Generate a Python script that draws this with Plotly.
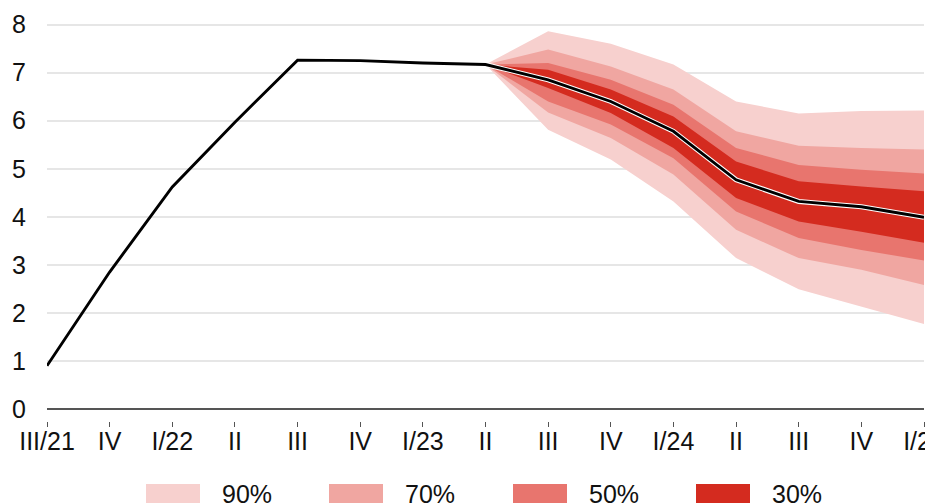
import plotly.graph_objects as go

# ---- data ----
quarters = ["2021Q3", "2021Q4", "2022Q1", "2022Q2", "2022Q3", "2022Q4",
            "2023Q1", "2023Q2", "2023Q3", "2023Q4", "2024Q1", "2024Q2",
            "2024Q3", "2024Q4", "2025Q1"]
tick_labels = ["III/21", "IV", "I/22", "II", "III", "IV", "I/23", "II",
               "III", "IV", "I/24", "II", "III", "IV", "I/25"]

history = [0.9, 2.85, 4.62, 5.97, 7.26, 7.25, 7.2, 7.17]
central = [7.17, 6.85, 6.40, 5.78, 4.77, 4.32, 4.21, 3.99]   # from 2023Q2

upper90 = [7.17, 7.86, 7.60, 7.17, 6.40, 6.15, 6.20, 6.21]
lower90 = [7.17, 5.81, 5.19, 4.32, 3.14, 2.49, 2.13, 1.77]
upper70 = [7.17, 7.48, 7.13, 6.65, 5.78, 5.48, 5.43, 5.40]
lower70 = [7.17, 6.17, 5.64, 4.88, 3.73, 3.14, 2.90, 2.58]
upper50 = [7.17, 7.20, 6.85, 6.33, 5.43, 5.08, 4.98, 4.90]
lower50 = [7.17, 6.40, 5.92, 5.22, 4.11, 3.56, 3.31, 3.09]
upper30 = [7.17, 7.06, 6.65, 6.09, 5.15, 4.74, 4.63, 4.53]
lower30 = [7.17, 6.68, 6.16, 5.43, 4.39, 3.90, 3.69, 3.46]

band_names = ["90%", "70%", "50%", "30%"]
band_colors = ["#f7d0ce", "#f0a6a1", "#e8756e", "#d42b1f"]
bands = [(upper90, lower90), (upper70, lower70), (upper50, lower50), (upper30, lower30)]

hist_x = quarters[:len(history)]
fc_x = quarters[len(history) - 1:]

FONT = "Liberation Sans, Arial, sans-serif"

fig = go.Figure()

for (up, lo), col, name in zip(bands, band_colors, band_names):
    fig.add_trace(go.Scatter(
        x=fc_x + fc_x[::-1], y=up + lo[::-1],
        fill="toself", fillcolor=col, mode="lines",
        line=dict(width=0, color=col), name=name,
        showlegend=False, hoverinfo="skip"))

# white halo under the forecast line
fig.add_trace(go.Scatter(x=fc_x, y=central, mode="lines",
                         line=dict(color="white", width=5),
                         showlegend=False, hoverinfo="skip"))
fig.add_trace(go.Scatter(x=hist_x + fc_x[1:], y=history + central[1:],
                         mode="lines", line=dict(color="black", width=2.9),
                         showlegend=False))

# custom legend (swatches + labels)
PLOT_W, PLOT_H = 877, 406
sw_left = [99, 282, 466, 649]   # pixel offsets from plot-area left
for i, (name, col) in enumerate(zip(band_names, band_colors)):
    fig.add_shape(type="rect", xref="paper", yref="paper",
                  xsizemode="pixel", ysizemode="pixel",
                  xanchor=0, yanchor=0,
                  x0=sw_left[i], x1=sw_left[i] + 54,
                  y0=-63, y1=-90,
                  fillcolor=col, line=dict(width=0))
    fig.add_annotation(xref="paper", yref="paper",
                       x=(sw_left[i] + 74) / PLOT_W, y=-57 / PLOT_H,
                       xanchor="left", yanchor="top",
                       text=name, showarrow=False,
                       font=dict(family=FONT, size=25, color="#111"))

fig.update_layout(
    width=933, height=503,
    margin=dict(l=39, r=17, t=7, b=90),
    paper_bgcolor="white", plot_bgcolor="white",
    font=dict(family=FONT, size=25, color="#111"),
    showlegend=False,
)
fig.update_xaxes(
    type="category", categoryorder="array", categoryarray=quarters,
    range=[0, len(quarters) - 1],
    tickvals=quarters, ticktext=tick_labels,
    showgrid=False, zeroline=False, showline=False,
    ticks="outside", ticklen=5, tickwidth=1, tickcolor="#555",
    ticklabelstandoff=-7,
    tickfont=dict(family=FONT, size=25, color="#111"),
    automargin=False,
)
fig.update_yaxes(
    range=[-0.25, 8.2],
    tickvals=[0, 1, 2, 3, 4, 5, 6, 7, 8],
    showgrid=True, gridcolor="#e6e6e6", gridwidth=1.5,
    zeroline=True, zerolinecolor="#555", zerolinewidth=2,
    showline=False, ticks="",
    ticklabelstandoff=20,
    tickfont=dict(family=FONT, size=25, color="#111"),
    automargin=False,
)

fig.write_html("out.html")
